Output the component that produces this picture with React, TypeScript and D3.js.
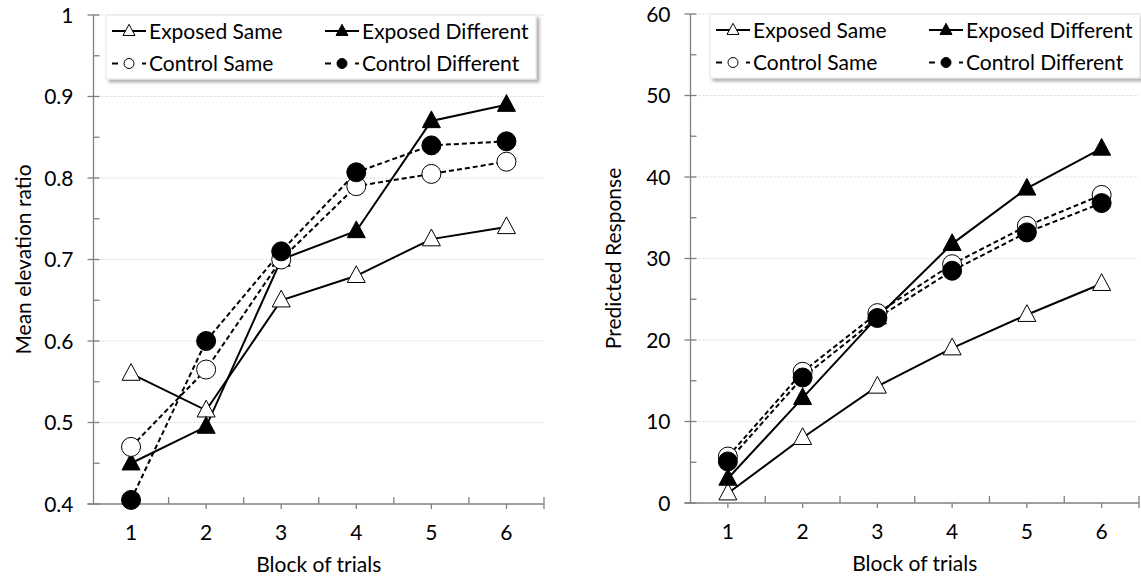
import React, { useRef, useEffect } from "react";
import * as d3 from "d3";

const BLOCKS = ["1", "2", "3", "4", "5", "6"];

const SERIES_NAMES = [
  "Exposed Same",
  "Exposed Different",
  "Control Same",
  "Control Different",
];

// left panel: mean elevation ratio
const ELEV_EXPOSED_SAME = [0.56, 0.515, 0.65, 0.68, 0.725, 0.74];
const ELEV_EXPOSED_DIFF = [0.45, 0.495, 0.7, 0.735, 0.87, 0.89];
const ELEV_CONTROL_SAME = [0.47, 0.565, 0.7, 0.79, 0.805, 0.82];
const ELEV_CONTROL_DIFF = [0.405, 0.6, 0.71, 0.807, 0.84, 0.845];
const ELEV_TICKS = [0.4, 0.5, 0.6, 0.7, 0.8, 0.9, 1];

// right panel: predicted response
const PRED_EXPOSED_SAME = [1.2, 8.0, 14.3, 19.0, 23.1, 26.9];
const PRED_EXPOSED_DIFF = [3.0, 12.9, 22.8, 31.8, 38.6, 43.5];
const PRED_CONTROL_SAME = [5.7, 16.1, 23.3, 29.3, 34.0, 37.8];
const PRED_CONTROL_DIFF = [5.1, 15.4, 22.7, 28.5, 33.2, 36.8];
const PRED_TICKS = [0, 10, 20, 30, 40, 50, 60];

const FONT = "Lato, 'Open Sans', sans-serif";
const FS = 21;
const AXIS = "#808080";

// marker style per series, in SERIES_NAMES order
const STYLES = [
  { shape: "triangle", fill: "#fff", dash: null },
  { shape: "triangle", fill: "#000", dash: null },
  { shape: "circle", fill: "#fff", dash: "5,3" },
  { shape: "circle", fill: "#000", dash: "5,3" },
];

type PanelProps = {
  series: number[][];
  ticks: number[];
  fmt: (v: number) => string;
  yTitle: string;
  x0: number;
  x1: number;
  yTop: number;
  yBottom: number;
  titleX: number;
  legendX: number;
};

function drawMarker(g: any, shape: string, fill: string, x: number, y: number, size: number) {
  if (shape === "triangle") {
    const h = size * 0.93;
    const w = size;
    g.append("path")
      .attr(
        "d",
        `M${x},${y - h * 0.6} L${x + w / 2},${y + h * 0.4} L${x - w / 2},${y + h * 0.4} Z`,
      )
      .attr("fill", fill)
      .attr("stroke", "#000")
      .attr("stroke-width", 1);
  } else {
    g.append("circle")
      .attr("cx", x)
      .attr("cy", y)
      .attr("r", size / 2)
      .attr("fill", fill)
      .attr("stroke", "#000")
      .attr("stroke-width", 1);
  }
}

function tick(g: any, x1: number, y1: number, x2: number, y2: number) {
  g.append("line")
    .attr("x1", x1)
    .attr("x2", x2)
    .attr("y1", y1)
    .attr("y2", y2)
    .attr("stroke", AXIS)
    .attr("stroke-width", 1.3);
}

function Panel({ series, ticks, fmt, yTitle, x0, x1, yTop, yBottom, titleX, legendX }: PanelProps) {
  const ref = useRef<SVGGElement>(null);

  useEffect(() => {
    const g = d3.select(ref.current);
    g.selectAll("*").remove();

    const x = d3.scaleBand().domain(BLOCKS).range([x0, x1]);
    const y = d3
      .scaleLinear()
      .domain([ticks[0], ticks[ticks.length - 1]])
      .range([yBottom, yTop]);
    const step = ticks[1] - ticks[0];
    const cx = (b: string) => (x(b) ?? 0) + x.bandwidth() / 2;

    // ── gridlines ──
    ticks.slice(1).forEach((t) => {
      g.append("line")
        .attr("x1", x0)
        .attr("x2", x1)
        .attr("y1", y(t))
        .attr("y2", y(t))
        .attr("stroke", "#d9d9d9")
        .attr("stroke-width", 1)
        .attr("stroke-dasharray", "2,2");
    });

    // ── y axis ──
    tick(g, x0, yTop, x0, yBottom);
    ticks.forEach((t) => {
      tick(g, x0 - 6, y(t), x0 + 6, y(t));
      g.append("text")
        .attr("x", x0 - 20)
        .attr("y", y(t))
        .attr("dy", "0.36em")
        .attr("text-anchor", "end")
        .attr("font-size", FS)
        .attr("fill", "#000")
        .text(fmt(t));
    });
    ticks.slice(0, -1).forEach((t) => {
      const m = y(t + step / 2);
      tick(g, x0, m, x0 + 6, m);
    });

    // ── x axis ──
    tick(g, x0 - 6, yBottom, x1, yBottom);
    BLOCKS.forEach((b, i) => {
      if (i > 0) tick(g, x(b) ?? 0, yBottom - 7, x(b) ?? 0, yBottom);
      tick(g, cx(b), yBottom, cx(b), yBottom + 5);
      g.append("text")
        .attr("x", cx(b))
        .attr("y", yBottom + 36)
        .attr("text-anchor", "middle")
        .attr("font-size", FS)
        .text(b);
    });
    tick(g, x1, yBottom - 7, x1, yBottom + 5);

    // ── axis titles ──
    g.append("text")
      .attr("x", (x0 + x1) / 2)
      .attr("y", yBottom + 68)
      .attr("text-anchor", "middle")
      .attr("font-size", FS)
      .text("Block of trials");
    g.append("text")
      .attr("transform", `translate(${titleX},${(yTop + yBottom) / 2}) rotate(-90)`)
      .attr("text-anchor", "middle")
      .attr("dy", "0.35em")
      .attr("font-size", FS)
      .text(yTitle);

    // ── lines and markers ──
    const line = d3
      .line<number>()
      .x((_d, i) => cx(BLOCKS[i]))
      .y((d) => y(d));

    series.forEach((vals, si) => {
      const st = STYLES[si];
      g.append("path")
        .attr("d", line(vals))
        .attr("fill", "none")
        .attr("stroke", "#000")
        .attr("stroke-width", 2)
        .attr("stroke-dasharray", st.dash);
    });
    series.forEach((vals, si) => {
      const st = STYLES[si];
      vals.forEach((v, i) => {
        drawMarker(g, st.shape, st.fill, cx(BLOCKS[i]), y(v), st.shape === "triangle" ? 18 : 19);
      });
    });

    // ── legend ──
    const lx = legendX;
    const lw = 430;
    const ly = yTop;
    const lh = 64;
    const defsId = `shadow-${x0}`;
    const defs = g.append("defs");
    const f = defs
      .append("filter")
      .attr("id", defsId)
      .attr("x", "-10%")
      .attr("y", "-10%")
      .attr("width", "130%")
      .attr("height", "150%");
    f.append("feDropShadow")
      .attr("dx", 3)
      .attr("dy", 3)
      .attr("stdDeviation", 1.5)
      .attr("flood-color", "#000")
      .attr("flood-opacity", 0.3);
    g.append("rect")
      .attr("x", lx)
      .attr("y", ly)
      .attr("width", lw)
      .attr("height", lh)
      .attr("fill", "#fff")
      .attr("stroke", "#e3e3e3")
      .attr("filter", `url(#${defsId})`);

    SERIES_NAMES.forEach((name, si) => {
      const st = STYLES[si];
      const col = si % 2;
      const row = Math.floor(si / 2);
      const sx = lx + 6 + col * 213;
      const sy = ly + (row === 0 ? 16 : 48.5);
      g.append("line")
        .attr("x1", sx)
        .attr("x2", sx + 34)
        .attr("y1", sy)
        .attr("y2", sy)
        .attr("stroke", "#000")
        .attr("stroke-width", 2)
        .attr("stroke-dasharray", st.dash ? "6,9" : null);
      drawMarker(g, st.shape, st.fill, sx + 17, sy, st.shape === "triangle" ? 12 : 10);
      g.append("text")
        .attr("x", sx + 37)
        .attr("y", sy)
        .attr("dy", "0.36em")
        .attr("font-size", FS)
        .text(name);
    });
  }, [series, ticks, fmt, yTitle, x0, x1, yTop, yBottom, titleX, legendX]);

  return <g ref={ref} />;
}

const fmtElev = (v: number) => (v === 1 ? "1" : d3.format(".1f")(v));
const fmtPred = (v: number) => d3.format("d")(v);

export default function App() {
  return (
    <svg
      width={1141}
      height={581}
      style={{ position: "absolute", left: 0, top: 0, fontFamily: FONT, background: "#fff" }}
    >
      <Panel
        series={[ELEV_EXPOSED_SAME, ELEV_EXPOSED_DIFF, ELEV_CONTROL_SAME, ELEV_CONTROL_DIFF]}
        ticks={ELEV_TICKS}
        fmt={fmtElev}
        yTitle="Mean elevation ratio"
        x0={93.5}
        x1={544}
        yTop={15}
        yBottom={504}
        titleX={24}
        legendX={106}
      />
      <Panel
        series={[PRED_EXPOSED_SAME, PRED_EXPOSED_DIFF, PRED_CONTROL_SAME, PRED_CONTROL_DIFF]}
        ticks={PRED_TICKS}
        fmt={fmtPred}
        yTitle="Predicted Response"
        x0={690.5}
        x1={1139}
        yTop={14}
        yBottom={503}
        titleX={614}
        legendX={710}
      />
    </svg>
  );
}
